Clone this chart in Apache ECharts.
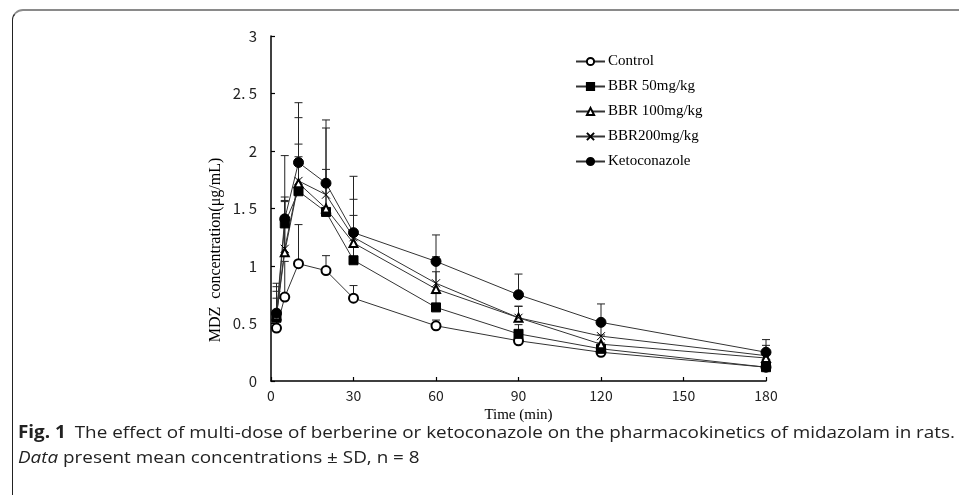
<!DOCTYPE html>
<html>
<head>
<meta charset="utf-8">
<script src="https://cdn.jsdelivr.net/npm/echarts@6/dist/echarts.min.js"></script>
<style>
  html, body { margin: 0; padding: 0; background: #fff; }
  #wrap { position: relative; width: 959px; height: 495px; overflow: hidden; }
  #chart { position: absolute; left: 0; top: 0; width: 959px; height: 495px; }
  .frame {
    position: absolute; left: 12px; top: 9px; width: 1000px; height: 600px;
    border-top: 2px solid #8a8a8a; border-left: 1.5px solid #222;
    border-top-left-radius: 11px; pointer-events: none;
  }
  .cap {
    position: absolute; left: 18px; font-family: "Open Sans", "Noto Sans", sans-serif;
    font-size: 17px; color: #222; white-space: nowrap; transform-origin: 0 50%;
  }
  .cap b { font-weight: 700; margin-right: 8px; }
</style>
</head>
<body>
<div id="wrap">
  <div id="chart"></div>
  <div class="frame"></div>
  <div class="cap" id="cap1" style="top:420px"><b>Fig. 1</b>The effect of multi-dose of berberine or ketoconazole on the pharmacokinetics of midazolam in rats.</div>
  <div class="cap" id="cap2" style="top:445px"><i>Data</i> present mean concentrations ± SD, n = 8</div>
</div>
<script>
const times = [2, 5, 10, 20, 30, 60, 90, 120, 180];
const seriesNames = ["Control", "BBR 50mg/kg", "BBR 100mg/kg", "BBR200mg/kg", "Ketoconazole"];
const yTickLabels = ["0", "0. 5", "1", "1. 5", "2", "2. 5", "3"];
const xTickLabels = ["0", "30", "60", "90", "120", "150", "180"];

const control = [0.46, 0.73, 1.02, 0.96, 0.72, 0.48, 0.35, 0.25, 0.12];
const bbr50 = [0.55, 1.37, 1.65, 1.47, 1.05, 0.64, 0.41, 0.28, 0.12];
const bbr100 = [0.57, 1.12, 1.72, 1.50, 1.20, 0.80, 0.55, 0.32, 0.20];
const bbr200 = [0.58, 1.15, 1.74, 1.62, 1.25, 0.85, 0.55, 0.39, 0.22];
const keto = [0.59, 1.41, 1.90, 1.72, 1.29, 1.04, 0.75, 0.51, 0.25];

const controlSD = [0.06, 0.31, 0.34, 0.13, 0.11, 0.05, 0.04, 0.03, 0.03];
const bbr50SD = [0.17, 0.23, 0.30, 0.23, 0.25, 0.12, 0.08, 0.05, 0.04];
const bbr100SD = [0.21, 0.45, 0.34, 0.34, 0.24, 0.15, 0.10, 0.08, 0.06];
const bbr200SD = [0.24, 0.41, 0.55, 0.58, 0.33, 0.23, 0.10, 0.11, 0.09];
const ketoSD = [0.26, 0.55, 0.52, 0.55, 0.49, 0.23, 0.18, 0.16, 0.11];

const means = [control, bbr50, bbr100, bbr200, keto];
const sds = [controlSD, bbr50SD, bbr100SD, bbr200SD, ketoSD];
const symbols = ["emptyCircle", "rect", "emptyTriangle", "path://M0,0L10,10M10,0L0,10", "circle"];
const symbolSizes = [9, 9, 8, 8, 10];

const chart = echarts.init(document.getElementById("chart"));

const lineSeries = seriesNames.map((name, i) => ({
  name: name,
  type: "line",
  data: times.map((t, j) => [t, means[i][j]]),
  symbol: symbols[i],
  symbolSize: symbolSizes[i],
  showAllSymbol: true,
  z: 3,
  lineStyle: { color: "#333", width: 1 },
  itemStyle: {
    color: i === 3 ? "none" : "#000",
    borderColor: "#000",
    borderWidth: 1
  },
  emphasis: { disabled: true }
}));

// upward-only SD bars with a cap
const errSeries = seriesNames.map((name, i) => ({
  type: "custom",
  name: "sd-" + i,
  data: times.map((t, j) => [t, means[i][j], means[i][j] + sds[i][j]]),
  z: 2,
  silent: true,
  renderItem: function (params, api) {
    const lo = api.coord([api.value(0), api.value(1)]);
    const hi = api.coord([api.value(0), api.value(2)]);
    const hw = 4;
    const style = { stroke: "#222", lineWidth: 1 };
    return {
      type: "group",
      children: [
        { type: "line", shape: { x1: lo[0], y1: lo[1], x2: hi[0], y2: hi[1] }, style: style },
        { type: "line", shape: { x1: hi[0] - hw, y1: hi[1], x2: hi[0] + hw, y2: hi[1] }, style: style }
      ]
    };
  }
}));

chart.setOption({
  animation: false,
  grid: { left: 271, top: 36, right: 193, bottom: 114 },
  legend: {
    data: seriesNames,
    orient: "vertical",
    left: 570,
    top: 49,
    itemWidth: 29,
    itemHeight: 9,
    itemGap: 10,
    textStyle: { fontFamily: "Liberation Serif", fontSize: 15, color: "#000", padding: [0, 0, 0, -2] }
  },
  xAxis: {
    type: "value",
    min: 0,
    max: 180,
    interval: 30,
    name: "Time (min)",
    nameLocation: "middle",
    nameGap: 25,
    nameTextStyle: { fontFamily: "Liberation Serif", fontSize: 15, color: "#000" },
    axisLine: { lineStyle: { color: "#000", width: 1.5 } },
    axisTick: { inside: true, length: 4, lineStyle: { color: "#000", width: 1.2 } },
    axisLabel: {
      margin: 8,
      fontFamily: "Noto Sans CJK SC",
      fontSize: 14,
      color: "#222",
      formatter: (v) => xTickLabels[Math.round(v / 30)]
    },
    splitLine: { show: false }
  },
  yAxis: {
    type: "value",
    min: 0,
    max: 3,
    interval: 0.5,
    axisLine: { show: true, lineStyle: { color: "#000", width: 1.5 } },
    axisTick: { show: true, inside: true, length: 4, lineStyle: { color: "#000", width: 1.2 } },
    axisLabel: {
      margin: 14,
      fontFamily: "Noto Sans CJK SC",
      fontSize: 15,
      color: "#222",
      formatter: (v) => yTickLabels[Math.round(v / 0.5)]
    },
    splitLine: { show: false }
  },
  graphic: [{
    type: "text",
    x: 216,
    y: 250,
    rotation: Math.PI / 2,
    style: {
      text: "MDZ  concentration(μg/mL)",
      fontFamily: "Liberation Serif",
      fontSize: 16,
      fill: "#000",
      align: "center",
      verticalAlign: "middle"
    }
  }],
  series: errSeries.concat(lineSeries)
});

// squeeze the caption lines to the width of the reference typesetting
const c1 = document.getElementById("cap1");
const c2 = document.getElementById("cap2");
const k = 937 / c1.getBoundingClientRect().width;
c1.style.transform = "scaleX(" + k + ")";
c2.style.transform = "scaleX(" + k + ")";
</script>
</body>
</html>
